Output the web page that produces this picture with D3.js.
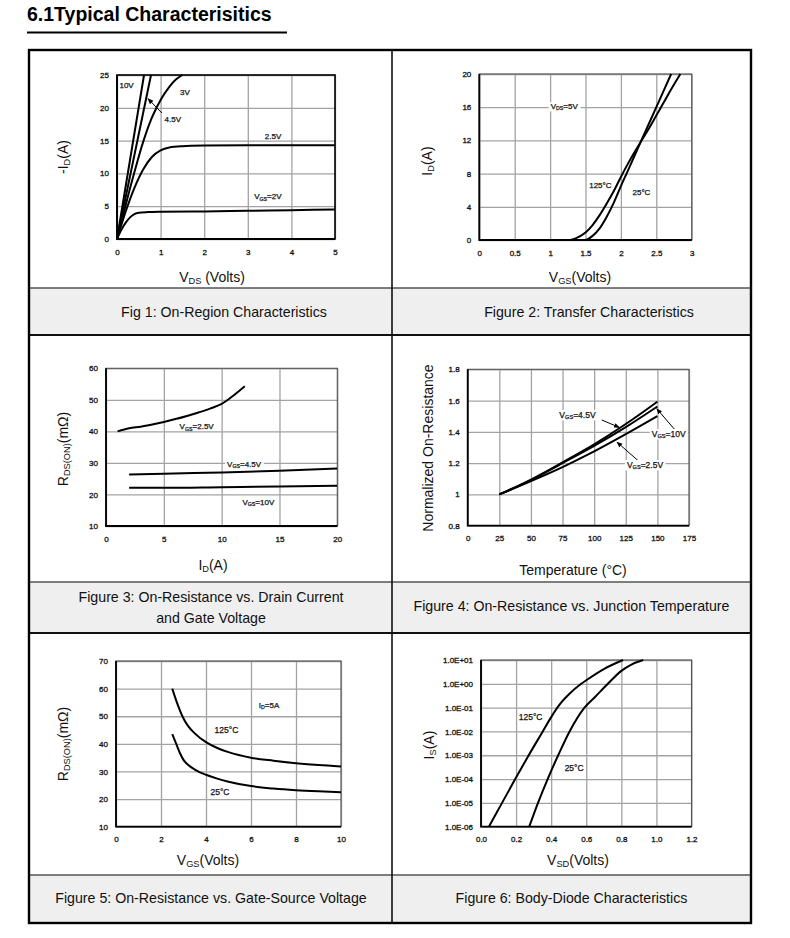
<!DOCTYPE html>
<html><head><meta charset="utf-8">
<script src="https://cdn.jsdelivr.net/npm/d3@7"></script>
<style>
body{margin:0;background:#fff;}
svg text{font-family:"Liberation Sans",Arial,Helvetica,sans-serif;fill:#111;}
</style></head><body>
<svg id="c" width="790" height="938"></svg>
<script>
// ---------------- DATA ----------------
const pageTitle = "6.1Typical Characterisitics";
const captions = [
  ["Fig 1: On-Region Characteristics"],
  ["Figure 2: Transfer Characteristics"],
  ["Figure 3: On-Resistance vs. Drain Current", "and Gate Voltage"],
  ["Figure 4: On-Resistance vs. Junction Temperature"],
  ["Figure 5: On-Resistance vs. Gate-Source Voltage"],
  ["Figure 6: Body-Diode Characteristics"]
];

// Fig 1: On-region (VDS, -ID)
const fig1XTicks = [0,1,2,3,4,5];
const fig1YTicks = [0,5,10,15,20,25];
const fig1Vgs10 = [[0,0],[0.62,25]];
const fig1Vgs45 = [[0,0],[0.78,25]];
const fig1Vgs3  = [[0,0],[0.2,5.2],[0.4,10.2],[0.6,14.8],[0.8,18.5],[1.0,21.2],[1.2,23.2],[1.35,24.3],[1.5,25]];
const fig1Vgs25 = [[0,0],[0.2,4.2],[0.4,7.8],[0.6,10.6],[0.8,12.5],[1.0,13.5],[1.2,13.95],[1.5,14.15],[2,14.25],[3,14.3],[5,14.3]];
const fig1Vgs2  = [[0,0],[0.1,1.4],[0.2,2.5],[0.3,3.3],[0.4,3.8],[0.5,4.0],[0.7,4.1],[1,4.15],[2,4.2],[3,4.3],[4,4.4],[5,4.5]];

// Fig 2: Transfer (VGS, ID)
const fig2XTicks = [0,0.5,1,1.5,2,2.5,3];
const fig2YTicks = [0,4,8,12,16,20];
const fig2T125 = [[0,0],[1.28,0],[1.4,0.35],[1.5,0.9],[1.6,1.8],[1.7,3.0],[1.8,4.4],[1.9,5.9],[2.0,7.6],[2.1,9.2],[2.2,10.7],[2.3,12.1],[2.4,13.5],[2.5,15.0],[2.6,16.5],[2.7,18.0],[2.84,20]];
const fig2T25  = [[0,0],[1.49,0],[1.6,0.5],[1.7,1.4],[1.8,2.8],[1.9,4.5],[2.0,6.5],[2.08,8.0],[2.2,10.3],[2.3,12.2],[2.4,14.1],[2.5,16.0],[2.6,17.9],[2.71,20]];

// Fig 3: RDS(ON) vs ID
const fig3XTicks = [0,5,10,15,20];
const fig3YTicks = [10,20,30,40,50,60];
const fig3Vgs25 = [[1,40],[2,41],[3,41.5],[4,42.2],[5,43],[6,43.9],[7,44.9],[8,46],[9,47.2],[10,48.7],[11,51.3],[12,54.3]];
const fig3Vgs45 = [[2,26.3],[5,26.6],[10,27],[15,27.5],[20,28.2]];
const fig3Vgs10 = [[2,22.1],[5,22.1],[10,22.3],[15,22.5],[20,22.8]];

// Fig 4: Normalized RDS(ON) vs Temperature
const fig4XTicks = [0,25,50,75,100,125,150,175];
const fig4YTicks = [0.8,1,1.2,1.4,1.6,1.8];
const fig4Vgs45 = [[25,1],[50,1.095],[75,1.205],[100,1.32],[125,1.45],[150,1.593]];
const fig4Vgs10 = [[25,1],[50,1.09],[75,1.2],[100,1.31],[125,1.43],[150,1.562]];
const fig4Vgs25 = [[25,1],[50,1.085],[75,1.175],[100,1.275],[125,1.385],[150,1.5]];

// Fig 5: RDS(ON) vs VGS
const fig5XTicks = [0,2,4,6,8,10];
const fig5YTicks = [10,20,30,40,50,60,70];
const fig5T125 = [[2.5,60],[2.75,54],[2.95,50],[3.2,46.5],[3.5,43.8],[4,40.6],[4.5,38.5],[5,37],[6,35],[7,33.9],[8,33],[9,32.3],[10,31.8]];
const fig5T25  = [[2.5,43.5],[2.7,39.5],[2.85,36.5],[3,34.2],[3.2,32.4],[3.5,30.7],[4,28.8],[4.5,27.4],[5,26.3],[6,24.7],[7,23.8],[8,23.2],[9,22.8],[10,22.5]];

// Fig 6: Body diode (VSD, IS) log
const fig6XTicks = [0,0.2,0.4,0.6,0.8,1.0,1.2];
const fig6YTicks = [1e-6,1e-5,1e-4,1e-3,1e-2,1e-1,1,10];
const fig6YLabels = ["1.0E-06","1.0E-05","1.0E-04","1.0E-03","1.0E-02","1.0E-01","1.0E+00","1.0E+01"];
const fig6T125 = [[0.045,1e-6],[0.12,1e-5],[0.195,1e-4],[0.272,1e-3],[0.352,1e-2],[0.4,0.04],[0.45,0.14],[0.5,0.355],[0.571,1],[0.6,1.41],[0.7,4.17],[0.81,10]];
const fig6T25  = [[0.275,1e-6],[0.325,1e-5],[0.38,1e-4],[0.44,1e-3],[0.505,1e-2],[0.59,0.1],[0.65,0.28],[0.723,1],[0.8,3.5],[0.86,6.6],[0.925,10]];

// ---------------- DRAWING ----------------
const svg = d3.select('#c');
const defs = svg.append('defs');
defs.append('marker').attr('id','arr').attr('viewBox','0 0 10 10').attr('refX',9).attr('refY',5)
  .attr('markerWidth',6).attr('markerHeight',6).attr('orient','auto-start-reverse').attr('markerUnits','userSpaceOnUse')
  .append('path').attr('d','M0,1 L10,5 L0,9 z').attr('fill','#000');

// title
svg.append('text').attr('x',27).attr('y',21).attr('font-size',19.5).attr('font-weight','bold').style('fill','#000').text(pageTitle);
svg.append('line').attr('x1',27).attr('x2',287).attr('y1',32.5).attr('y2',32.5).attr('stroke','#000').attr('stroke-width',2);

// table
const T = {L:29, R:751, M:392, rows:[50,335,633,923], capTop:[288,582,875]};
for (let r=0;r<3;r++){
  svg.append('rect').attr('x',T.L).attr('y',T.capTop[r]).attr('width',T.R-T.L).attr('height',T.rows[r+1]-T.capTop[r]).attr('fill','#efefef');
  svg.append('line').attr('x1',T.L).attr('x2',T.R).attr('y1',T.capTop[r]).attr('y2',T.capTop[r]).attr('stroke','#555').attr('stroke-width',1.5);
}
[335,633].forEach(yy=>svg.append('line').attr('x1',T.L).attr('x2',T.R).attr('y1',yy).attr('y2',yy).attr('stroke','#111').attr('stroke-width',1.8));
svg.append('line').attr('x1',T.M).attr('x2',T.M).attr('y1',T.rows[0]).attr('y2',T.rows[3]).attr('stroke','#111').attr('stroke-width',1.6);
svg.append('rect').attr('x',T.L).attr('y',T.rows[0]).attr('width',T.R-T.L).attr('height',T.rows[3]-T.rows[0]).attr('fill','none').attr('stroke','#000').attr('stroke-width',2.4);

// captions
const capPos = [[224,317],[589,317],[211,602],[571.5,611],[211,903],[571.5,903]];
captions.forEach((lines,i)=>{
  lines.forEach((ln,j)=>svg.append('text').attr('x',capPos[i][0]).attr('y',capPos[i][1]+j*20.5).attr('text-anchor','middle').attr('font-size',14.2).text(ln));
});

// rich text helper: parts = [[text, sub?],...]
function rich(g, parts, x, y, size, opts={}){
  const t = g.append('text').attr('x',x).attr('y',y).attr('font-size',size).attr('text-anchor',opts.anchor||'middle');
  if (opts.rotate) t.attr('transform',`rotate(-90,${x},${y})`);
  if (opts.heavy) t.style('stroke','#111').style('stroke-width',0.25);
  let sub=false;
  parts.forEach(p=>{
    const s = !!p[1];
    const ts = t.append('tspan').text(p[0]);
    if (s){ ts.attr('font-size',size*0.66); if(!sub) ts.attr('dy',size*0.16); }
    else if (sub) ts.attr('dy',-size*0.16);
    sub = s;
  });
  return t;
}

function chart(c){
  const g = svg.append('g');
  const x = d3.scaleLinear().domain(c.xDomain).range([c.left,c.right]);
  const y = (c.yLog? d3.scaleLog(): d3.scaleLinear()).domain(c.yDomain).range([c.bottom,c.top]);
  const W = c.right-c.left, H = c.bottom-c.top;
  // grid
  g.append('g').attr('transform',`translate(0,${c.bottom})`)
    .call(d3.axisBottom(x).tickValues(c.xTicks).tickSize(-H).tickFormat(''))
    .call(s=>{s.select('.domain').remove(); s.selectAll('line').attr('stroke','#a3a3a3').attr('stroke-width',1.3);});
  g.append('g').attr('transform',`translate(${c.left},0)`)
    .call(d3.axisLeft(y).tickValues(c.yTicks).tickSize(-W).tickFormat(''))
    .call(s=>{s.select('.domain').remove(); s.selectAll('line').attr('stroke','#a3a3a3').attr('stroke-width',1.3);});
  // frame
  g.append('rect').attr('x',c.left).attr('y',c.top).attr('width',W).attr('height',H).attr('fill','none')
    .attr('stroke',c.blackFrame?'#000':'#555').attr('stroke-width',c.blackFrame?1.6:1.1);
  g.append('path').attr('d',`M${c.left},${c.top}V${c.bottom}H${c.right}`).attr('fill','none').attr('stroke','#000').attr('stroke-width',1.8);
  // tick labels
  g.append('g').attr('transform',`translate(0,${c.bottom})`)
    .call(d3.axisBottom(x).tickValues(c.xTicks).tickSize(0).tickPadding(c.xPad||10).tickFormat(c.xFmt||(d=>d)))
    .call(s=>{s.select('.domain').remove(); s.attr('font-family',null).attr('font-size',8);})
    .selectAll('text').style('fill','#111').style('stroke','#111').style('stroke-width',0.3);
  g.append('g').attr('transform',`translate(${c.left},0)`)
    .call(d3.axisLeft(y).tickValues(c.yTicks).tickSize(0).tickPadding(c.yPad||8).tickFormat(c.yFmt||(d=>d)))
    .call(s=>{s.select('.domain').remove(); s.attr('font-family',null).attr('font-size',8);})
    .selectAll('text').style('fill','#111').style('stroke','#111').style('stroke-width',0.3);
  // axis titles
  rich(g, c.xTitle, c.xTitlePos[0], c.xTitlePos[1], 14);
  rich(g, c.yTitle, c.yTitlePos[0], c.yTitlePos[1], 14, {rotate:true});
  // curves
  const clipId = 'clip'+Math.random().toString(36).slice(2);
  g.append('clipPath').attr('id',clipId).append('rect').attr('x',c.left).attr('y',c.top-1).attr('width',W).attr('height',H+1);
  c.series.forEach(s=>{
    const line = d3.line().x(d=>x(d[0])).y(d=>y(d[1])).curve(s.length>2? d3.curveMonotoneX : d3.curveLinear);
    g.append('path').datum(s).attr('d',line).attr('fill','none').attr('stroke','#000').attr('stroke-width',2)
      .attr('stroke-linejoin','round').attr('clip-path',`url(#${clipId})`);
  });
  // arrows
  (c.arrows||[]).forEach(a=>{
    g.append('line').attr('x1',x(a[0][0])).attr('y1',y(a[0][1])).attr('x2',x(a[1][0])).attr('y2',y(a[1][1]))
      .attr('stroke','#000').attr('stroke-width',1).attr('marker-end','url(#arr)');
  });
  // labels
  (c.labels||[]).forEach(l=>{
    const px = x(l.at[0]), py = y(l.at[1]);
    const sz = l.size||8.5;
    const t = rich(g, l.parts, px, py+sz*0.35, sz, {heavy:true});
    if (l.bg){
      const b = t.node().getBBox();
      g.insert('rect', function(){return t.node();}).attr('x',b.x-2).attr('y',b.y).attr('width',b.width+4).attr('height',b.height).attr('fill','#fff');
    }
  });
}

// Fig 1
chart({left:117,right:335,top:75,bottom:239, xDomain:[0,5], yDomain:[0,25], xTicks:fig1XTicks, yTicks:fig1YTicks, blackFrame:true,
  xTitle:[["V"],["DS",1],[" (Volts)"]], xTitlePos:[212,282],
  yTitle:[["-I"],["D",1],["(A)"]], yTitlePos:[68,157],
  series:[fig1Vgs10,fig1Vgs45,fig1Vgs3,fig1Vgs25,fig1Vgs2],
  arrows:[[[1.03,19.2],[0.71,21.4]]],
  labels:[
    {parts:[["10V"]],at:[0.22,23.5],size:8},
    {parts:[["3V"]],at:[1.56,22.4],size:8},
    {parts:[["4.5V"]],at:[1.28,18.2],size:8},
    {parts:[["2.5V"]],at:[3.58,15.6],size:8},
    {parts:[["V"],["GS",1],["=2V"]],at:[3.46,6.45],size:8}
  ]});

// Fig 2
chart({left:479.3,right:691.7,top:74,bottom:240, xDomain:[0,3], yDomain:[0,20], xTicks:fig2XTicks, yTicks:fig2YTicks,
  xTitle:[["V"],["GS",1],["(Volts)"]], xTitlePos:[580,282],
  yTitle:[["I"],["D",1],["(A)"]], yTitlePos:[432,161],
  series:[fig2T125,fig2T25],
  labels:[
    {parts:[["V"],["DS",1],["=5V"]],at:[1.2,16.1],size:8,bg:true},
    {parts:[["125°C"]],at:[1.71,6.6],size:8},
    {parts:[["25°C"]],at:[2.29,5.8],size:8}
  ]});

// Fig 3
chart({left:106,right:337.3,top:368.3,bottom:526, xDomain:[0,20], yDomain:[10,60], xTicks:fig3XTicks, yTicks:fig3YTicks,
  xTitle:[["I"],["D",1],["(A)"]], xTitlePos:[213,570],
  yTitle:[["R"],["DS(ON)",1],["(mΩ)"]], yTitlePos:[68,449],
  series:[fig3Vgs25,fig3Vgs45,fig3Vgs10],
  labels:[
    {parts:[["V"],["GS",1],["=2.5V"]],at:[7.84,41.5],size:8},
    {parts:[["V"],["GS",1],["=4.5V"]],at:[11.94,29.6],size:8,bg:true},
    {parts:[["V"],["GS",1],["=10V"]],at:[13.17,17.7],size:8,bg:true}
  ]});

// Fig 4
chart({left:467.7,right:689,top:369.3,bottom:525.7, xDomain:[0,175], yDomain:[0.8,1.8], xTicks:fig4XTicks, yTicks:fig4YTicks,
  yFmt:d=>d3.format('')(+d.toFixed(1)),
  xTitle:[["Temperature (°C)"]], xTitlePos:[573,575],
  yTitle:[["Normalized On-Resistance"]], yTitlePos:[433,448],
  series:[fig4Vgs45,fig4Vgs10,fig4Vgs25],
  arrows:[[[106,1.476],[120,1.428]],[[164,1.412],[149.5,1.548]],[[135,1.214],[118,1.335]]],
  labels:[
    {parts:[["V"],["GS",1],["=4.5V"]],at:[86.8,1.508],size:8.5,bg:true},
    {parts:[["V"],["GS",1],["=10V"]],at:[159,1.386],size:8.5,bg:true},
    {parts:[["V"],["GS",1],["=2.5V"]],at:[140.2,1.188],size:8.5,bg:true}
  ]});

// Fig 5
chart({left:116,right:341,top:661,bottom:826.7, xDomain:[0,10], yDomain:[10,70], xTicks:fig5XTicks, yTicks:fig5YTicks,
  xTitle:[["V"],["GS",1],["(Volts)"]], xTitlePos:[208,865],
  yTitle:[["R"],["DS(ON)",1],["(mΩ)"]], yTitlePos:[68,744],
  series:[fig5T125,fig5T25],
  labels:[
    {parts:[["I"],["D",1],["=5A"]],at:[6.8,54.1],size:8},
    {parts:[["125°C"]],at:[4.91,45],size:8.5},
    {parts:[["25°C"]],at:[4.62,22.7],size:8.5}
  ]});

// Fig 6
chart({left:481,right:691.5,top:660,bottom:826.7, xDomain:[0,1.2], yDomain:[1e-6,10], yLog:true, xTicks:fig6XTicks, yTicks:fig6YTicks,
  xFmt:d3.format('.1f'), yFmt:(d,i)=>fig6YLabels[i],
  xTitle:[["V"],["SD",1],["(Volts)"]], xTitlePos:[578,865],
  yTitle:[["I"],["S",1],["(A)"]], yTitlePos:[434,745],
  series:[fig6T125,fig6T25],
  labels:[
    {parts:[["125°C"]],at:[0.283,0.042],size:8.5},
    {parts:[["25°C"]],at:[0.531,2.8e-4],size:8.5}
  ]});
</script>
</body></html>
